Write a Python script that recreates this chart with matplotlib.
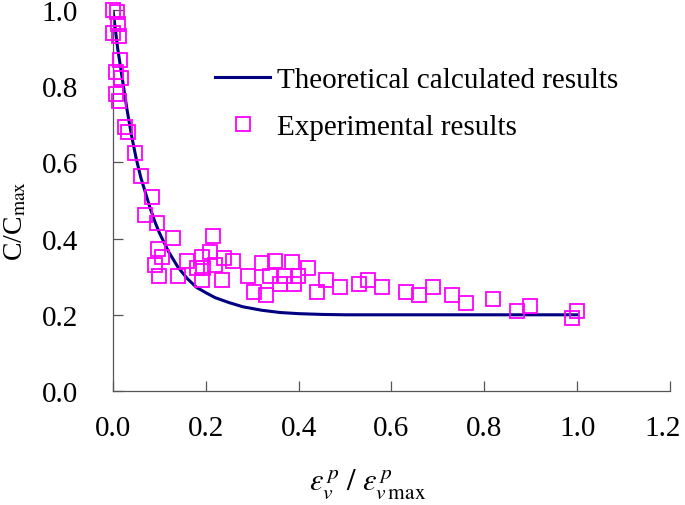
import matplotlib
matplotlib.use("Agg")
import matplotlib.pyplot as plt
import matplotlib.transforms as mtransforms

# -----------------------------
# Datos
# -----------------------------
# curva teorica
curve_x = [0.0, 0.01, 0.02, 0.03, 0.04, 0.05, 0.06, 0.07, 0.08, 0.09, 0.10,
           0.12, 0.14, 0.16, 0.18, 0.20, 0.22, 0.25, 0.28, 0.32, 0.36, 0.40,
           0.45, 0.50, 0.60, 1.00]
curve_y = [1.0, 0.90, 0.82, 0.74, 0.67, 0.61, 0.56, 0.52, 0.48, 0.445, 0.415,
           0.365, 0.325, 0.295, 0.272, 0.258, 0.245, 0.232, 0.221, 0.212, 0.206,
           0.203, 0.201, 0.200, 0.200, 0.200]

# resultados experimentales
exp_x = [0.0, 0.009, 0.011, 0.0, 0.013, 0.015, 0.006, 0.017, 0.006, 0.013,
         0.026, 0.032, 0.047, 0.060, 0.084, 0.069, 0.095, 0.129, 0.216, 0.097,
         0.106, 0.091, 0.099, 0.140, 0.159, 0.192, 0.209, 0.239, 0.259, 0.181,
         0.194, 0.220, 0.192, 0.235, 0.291, 0.321, 0.349, 0.386, 0.420, 0.338,
         0.360, 0.371, 0.390, 0.399, 0.304, 0.330, 0.440, 0.459, 0.489, 0.530,
         0.550, 0.580, 0.631, 0.659, 0.690, 0.731, 0.761, 0.819, 0.871, 0.899,
         0.989, 1.000]
exp_y = [1.0, 0.995, 0.963, 0.94, 0.932, 0.869, 0.837, 0.822, 0.78, 0.761,
         0.693, 0.68, 0.625, 0.564, 0.509, 0.462, 0.441, 0.402, 0.407, 0.373,
         0.352, 0.331, 0.302, 0.302, 0.341, 0.352, 0.365, 0.349, 0.341, 0.323,
         0.323, 0.331, 0.291, 0.291, 0.302, 0.336, 0.341, 0.339, 0.323, 0.302,
         0.281, 0.302, 0.281, 0.302, 0.26, 0.252, 0.26, 0.291, 0.273, 0.281,
         0.291, 0.273, 0.26, 0.252, 0.273, 0.252, 0.231, 0.241, 0.21, 0.223,
         0.192, 0.21]

xticks = [0.0, 0.2, 0.4, 0.6, 0.8, 1.0, 1.2]
yticks = [0.0, 0.2, 0.4, 0.6, 0.8, 1.0]

# -----------------------------
# Grafica
# -----------------------------
plt.rcParams["font.family"] = ["Liberation Serif", "DejaVu Serif"]
plt.rcParams["mathtext.fontset"] = "stix"

fig = plt.figure(figsize=(6.85, 5.06), dpi=100)
ax = fig.add_axes([113 / 685, 1 - 392 / 506, (670 - 113) / 685, (392 - 11) / 506])

ax.plot(curve_x, curve_y, color="#000080", lw=2.2,
        label="Theoretical calculated results", zorder=2)
ax.plot(exp_x, exp_y, ls="none", marker="s", ms=10, mfc="none",
        mec="#FF00FF", mew=1.3, label="Experimental results",
        clip_on=False, zorder=3)

ax.set_xlim(0, 1.2)
ax.set_ylim(0, 1.0)
ax.set_xticks(xticks)
ax.set_yticks(yticks)
ax.set_xticklabels(["%.1f" % v for v in xticks])
ax.set_yticklabels(["%.1f" % v for v in yticks])

for s in ["top", "right"]:
    ax.spines[s].set_visible(False)
for s in ["left", "bottom"]:
    ax.spines[s].set_color("#555555")
    ax.spines[s].set_linewidth(0.9)

ax.tick_params(direction="in", length=7, width=0.9, color="#555555",
               labelsize=21)
ax.tick_params(axis="x", pad=17)
ax.tick_params(axis="y", pad=25)

# el ultimo rotulo toca el borde: se corre un poco a la izquierda
last = ax.get_xticklabels()[-1]
last.set_transform(last.get_transform() +
                   mtransforms.ScaledTranslation(-5 / 72, 0, fig.dpi_scale_trans))

ax.set_ylabel(r"C/C$_{\rm max}$", fontsize=20)
ax.yaxis.set_label_coords(-0.152, 0.45)
ax.set_xlabel(r"$\varepsilon_v^{\,p}\ /\ \varepsilon_{v\,\rm max}^{\,p}$",
              fontsize=22)
ax.xaxis.set_label_coords(0.458, -0.198)

ax.legend(loc="upper left", bbox_to_anchor=(0.183, 0.851), frameon=False,
          borderpad=0, borderaxespad=0, fontsize=21, handlelength=1.9,
          handletextpad=0.24, labelspacing=0.69)

fig.savefig("out.png", dpi=100)
